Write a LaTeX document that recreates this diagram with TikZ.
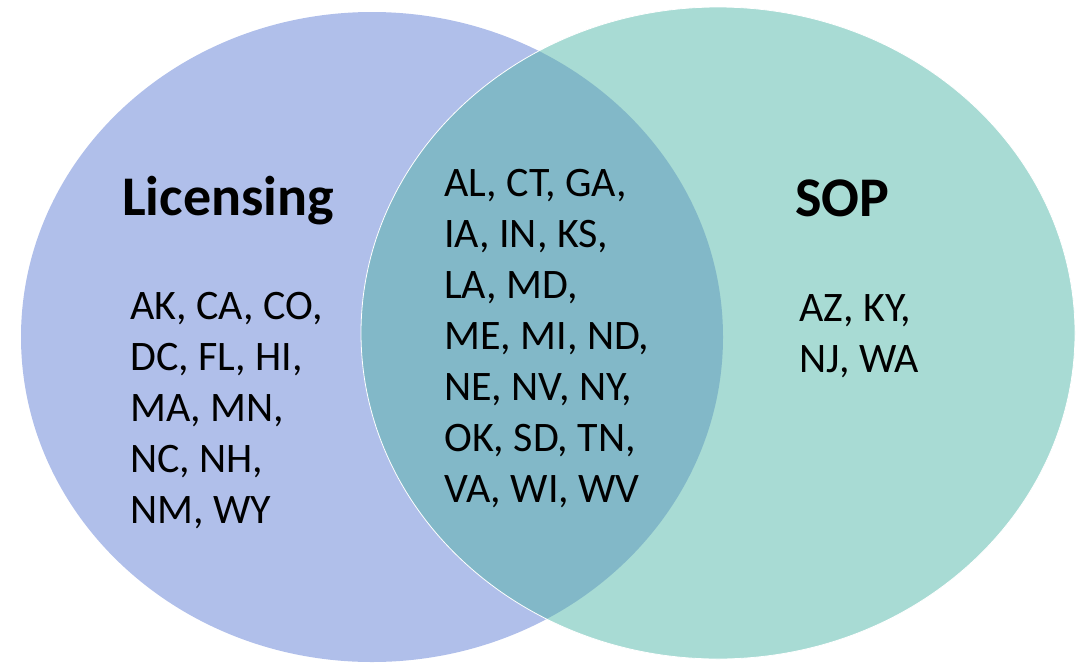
\documentclass[tikz,border=0pt]{standalone}
\usepackage{fontspec}
\setmainfont{Carlito}
\definecolor{licfill}{HTML}{B0BFEA}
\definecolor{sopfill}{HTML}{A8DBD4}
\definecolor{bothfill}{HTML}{82B8C8}
\tikzset{
  settitle/.style={anchor=base west, inner sep=0pt, font=\fontsize{56}{66}\selectfont\bfseries},
  setlist/.style={anchor=base west, inner sep=0pt, align=left, font=\fontsize{42}{51}\selectfont},
}
\begin{document}
\begin{tikzpicture}[x=1pt,y=-1pt]
\useasboundingbox (0,0) rectangle (1081,662);
\fill[licfill] (372,337) ellipse [x radius=351pt, y radius=325pt];
\fill[sopfill] (718,333) ellipse [x radius=357pt, y radius=326pt];
\begin{scope}
  \clip (718,333) ellipse [x radius=357pt, y radius=326pt];
  \fill[bothfill] (372,337) ellipse [x radius=351pt, y radius=325pt];
\end{scope}
\draw[white, line width=0.8pt] (718,333) ellipse [x radius=357pt, y radius=326pt];
\node[settitle] (lic) at (122,215) {Licensing};
\node[settitle] (sop) at (795,216) {SOP};
% base anchor of a multi-line node lies on its last line
\node[setlist] (licset) at (130,523) {AK, CA, CO,\\DC, FL, HI,\\MA, MN,\\NC, NH,\\NM, WY};
\node[setlist] (both) at (444,502) {AL, CT, GA,\\IA, IN, KS,\\LA, MD,\\ME, MI, ND,\\NE, NV, NY,\\OK, SD, TN,\\VA, WI, WV};
\node[setlist] (sopset) at (799,372) {AZ, KY,\\NJ, WA};
\end{tikzpicture}
\end{document}
